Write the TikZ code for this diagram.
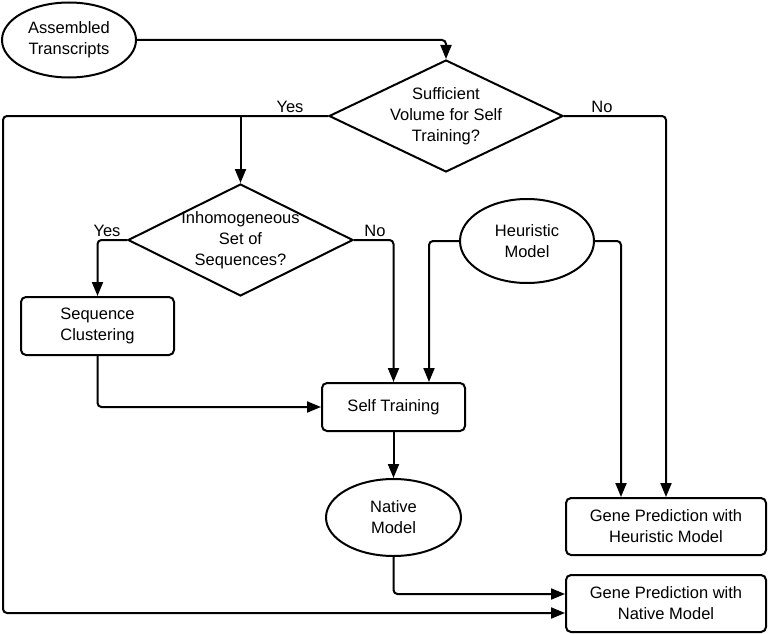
\documentclass[tikz,border=0pt]{standalone}
\usepackage{fontspec}
\setmainfont{Liberation Sans}
\usetikzlibrary{shapes.geometric,arrows.meta}
\begin{document}
\begin{tikzpicture}[x=1pt,y=-1pt,
  every node/.style={font=\fontsize{16.5}{21}\selectfont, align=center, inner sep=0pt},
  oval/.style={ellipse, draw, line width=2pt},
  decision/.style={diamond, draw, line width=2pt},
  proc/.style={rectangle, draw, line width=2pt, rounded corners=5pt},
  conn/.style={line width=2pt, rounded corners=4pt},
  arr/.style={conn, -{Triangle[length=14pt,width=11pt]}},
  lbl/.style={font=\fontsize{16.5}{21}\selectfont}
]
\useasboundingbox (0,0) rectangle (768,634);

\node[oval, minimum width=134pt, minimum height=75pt] (at) at (69,40) {Assembled\\Transcripts};
\node[decision, minimum width=234pt, minimum height=112pt,
      label={[align=center]center:Sufficient\\Volume for Self\\Training?}] (d1) at (446,116) {};
\node[decision, minimum width=225pt, minimum height=112pt,
      label={[align=center]center:Inhomogeneous\\Set of\\Sequences?}] (d2) at (240.5,240) {};
\node[proc, minimum width=153pt, minimum height=58pt] (sc) at (97.5,326) {Sequence\\Clustering};
\node[oval, minimum width=134pt, minimum height=84pt] (heur) at (527,241) {Heuristic\\Model};
\node[proc, minimum width=143pt, minimum height=48pt] (st) at (393.5,407) {Self Training};
\node[oval, minimum width=135pt, minimum height=77pt] (nat) at (393.5,517.5) {Native\\Model};
\node[proc, minimum width=200pt, minimum height=57pt] (gheu) at (666,526.5) {Gene Prediction with\\Heuristic Model};
\node[proc, minimum width=200pt, minimum height=57pt] (gnat) at (666,603.5) {Gene Prediction with\\Native Model};

\node[lbl] (yes1) at (290,107) {Yes};
\node[lbl] (no1) at (602,107) {No};
\node[lbl] (yes2) at (107,231) {Yes};
\node[lbl] (no2) at (375,231) {No};

\coordinate (lft) at (3,613);

\draw[arr] (at.east) -| (d1.north);
\draw[arr] (d1.west) -| (lft) -- ([yshift=-9.5pt]gnat.west);
\draw[arr] (d1.west -| d2.north) -- (d2.north);
\draw[arr] (d1.east) -| (gheu.north);
\draw[arr] (d2.west) -| (sc.north);
\draw[arr] (d2.east) -| (st.north);
\draw[arr] (sc.south) |- (st.west);
\draw[arr] (heur.west) -| ([xshift=35.5pt]st.north);
\draw[arr] (heur.east) -| ([xshift=-45pt]gheu.north);
\draw[arr] (st.south) -- (nat.north);
\draw[arr] (nat.south) |- ([yshift=9.5pt]gnat.west);
\end{tikzpicture}
\end{document}
